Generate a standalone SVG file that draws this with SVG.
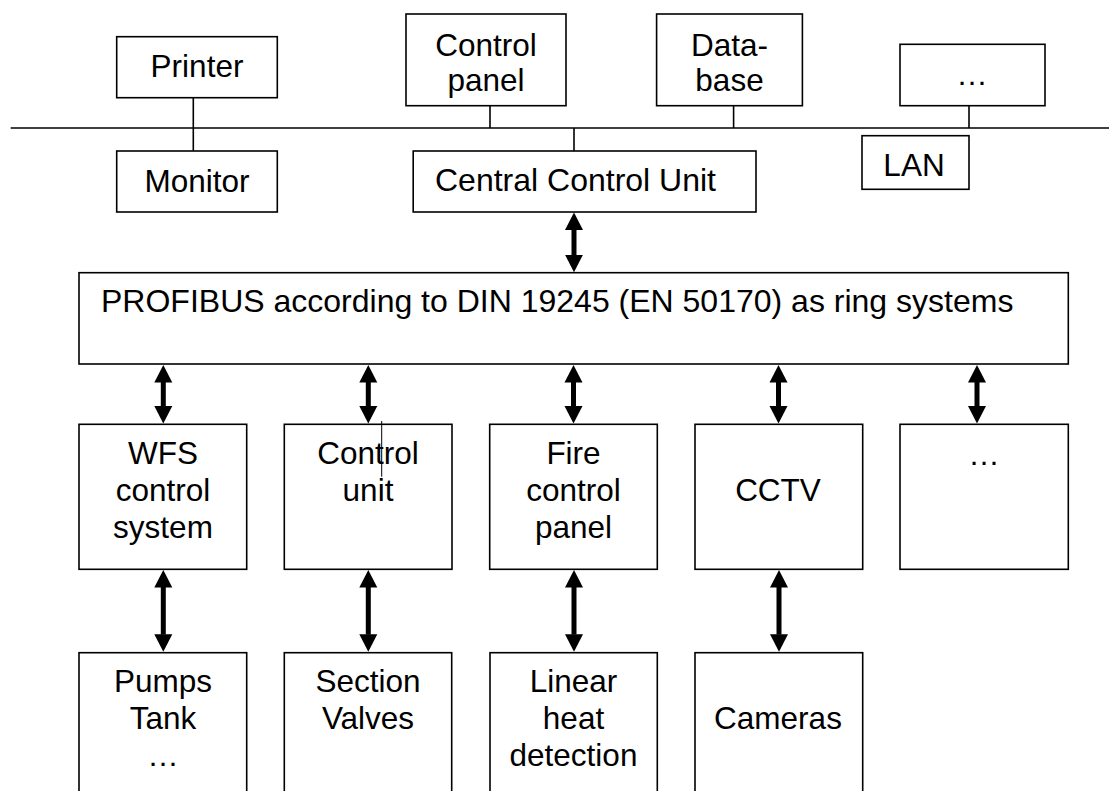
<svg xmlns="http://www.w3.org/2000/svg" width="1109" height="791" viewBox="0 0 1109 791">
<style>
  .box { fill: #ffffff; stroke: #000000; stroke-width: 1.6; }
  .wire { fill: none; stroke: #000000; stroke-width: 1.6; }
  .arr { fill: none; stroke: #000000; stroke-width: 5; marker-start: url(#head); marker-end: url(#head); }
  .stray { stroke: #000000; stroke-width: 1; }
  text { font-family: "Liberation Sans", Arial, sans-serif; font-size: 31.5px; fill: #000000; text-anchor: middle; }
  .left { text-anchor: start; font-size: 32px; }
</style>
<defs>
  <marker id="head" markerUnits="userSpaceOnUse" markerWidth="20" markerHeight="20" viewBox="0 -10 20 20" refX="0.5" refY="0" orient="auto-start-reverse">
    <path d="M0,-9 L17.5,0 L0,9 Z" fill="#000000"/>
  </marker>
</defs>
<rect x="0" y="0" width="1109" height="791" fill="#ffffff"/>

<g id="connectors">
  <line class="wire" x1="10.7" y1="128" x2="1109" y2="128"/>
  <line class="wire" x1="193.3" y1="97.7" x2="193.3" y2="151"/>
  <line class="wire" x1="490" y1="105.7" x2="490" y2="128"/>
  <line class="wire" x1="574" y1="128" x2="574" y2="151"/>
  <line class="wire" x1="733.6" y1="105.7" x2="733.6" y2="128"/>
  <line class="wire" x1="969" y1="105.7" x2="969" y2="128"/>
  <line class="arr" x1="574" y1="229.5" x2="574" y2="255.2"/>
  <line class="arr" x1="163.3" y1="382" x2="163.3" y2="406.5"/>
  <line class="arr" x1="368.3" y1="382" x2="368.3" y2="406.5"/>
  <line class="arr" x1="573.5" y1="382" x2="573.5" y2="406.5"/>
  <line class="arr" x1="778.5" y1="382" x2="778.5" y2="406.5"/>
  <line class="arr" x1="977" y1="382" x2="977" y2="406.5"/>
  <line class="arr" x1="163.3" y1="587" x2="163.3" y2="634.7"/>
  <line class="arr" x1="368.3" y1="587" x2="368.3" y2="634.7"/>
  <line class="arr" x1="574" y1="587" x2="574" y2="634.7"/>
  <line class="arr" x1="779" y1="587" x2="779" y2="634.7"/>
</g>

<g id="printer">
  <rect class="box" x="116.7" y="36.7" width="160.6" height="61"/>
  <text x="197" y="77">Printer</text>
</g>
<g id="monitor">
  <rect class="box" x="116.7" y="151" width="160.6" height="61"/>
  <text x="197" y="192">Monitor</text>
</g>
<g id="control-panel">
  <rect class="box" x="406" y="14" width="160" height="91.7"/>
  <text x="486" y="56">Control</text>
  <text x="486" y="91">panel</text>
</g>
<g id="database">
  <rect class="box" x="656.6" y="14" width="145.8" height="91.7"/>
  <text x="729.5" y="56">Data-</text>
  <text x="729.5" y="91">base</text>
</g>
<g id="top-more">
  <rect class="box" x="900" y="44.3" width="145" height="61.4"/>
  <text x="972" y="85">…</text>
</g>
<g id="central-control-unit">
  <rect class="box" x="413.2" y="151" width="342.8" height="61"/>
  <text class="left" x="435" y="191">Central Control Unit</text>
</g>
<g id="lan">
  <rect class="box" x="862" y="135.7" width="107" height="53.6"/>
  <text x="914" y="176">LAN</text>
</g>
<g id="profibus">
  <rect class="box" x="79" y="272.7" width="989.3" height="91.3"/>
  <text class="left" x="101" y="312">PROFIBUS according to DIN 19245 (EN 50170) as ring systems</text>
</g>
<g id="wfs-control-system">
  <rect class="box" x="79" y="424.3" width="167.7" height="145"/>
  <text x="163" y="464">WFS</text>
  <text x="163" y="501">control</text>
  <text x="163" y="538">system</text>
</g>
<g id="control-unit">
  <rect class="box" x="284.3" y="424.3" width="167.7" height="145"/>
  <text x="368" y="464">Control</text>
  <text x="368" y="501">unit</text>
  <line class="stray" x1="381.7" y1="421" x2="381.7" y2="476.7"/>
</g>
<g id="fire-control-panel">
  <rect class="box" x="489.7" y="424.3" width="167.6" height="145"/>
  <text x="573.5" y="464">Fire</text>
  <text x="573.5" y="501">control</text>
  <text x="573.5" y="538">panel</text>
</g>
<g id="cctv">
  <rect class="box" x="695" y="424.3" width="167.7" height="145"/>
  <text x="778" y="501">CCTV</text>
</g>
<g id="row-more">
  <rect class="box" x="900" y="424.3" width="168.3" height="145"/>
  <text x="984" y="465">…</text>
</g>
<g id="pumps-tank">
  <rect class="box" x="79" y="652.7" width="167.7" height="145"/>
  <text x="163" y="692">Pumps</text>
  <text x="163" y="729">Tank</text>
  <text x="163" y="766">…</text>
</g>
<g id="section-valves">
  <rect class="box" x="284.3" y="652.7" width="167.4" height="145"/>
  <text x="368" y="692">Section</text>
  <text x="368" y="729">Valves</text>
</g>
<g id="linear-heat-detection">
  <rect class="box" x="490" y="652.7" width="167.3" height="145"/>
  <text x="573.5" y="692">Linear</text>
  <text x="573.5" y="729">heat</text>
  <text x="573.5" y="766">detection</text>
</g>
<g id="cameras">
  <rect class="box" x="695" y="652.7" width="167.7" height="145"/>
  <text x="778" y="729">Cameras</text>
</g>
</svg>
